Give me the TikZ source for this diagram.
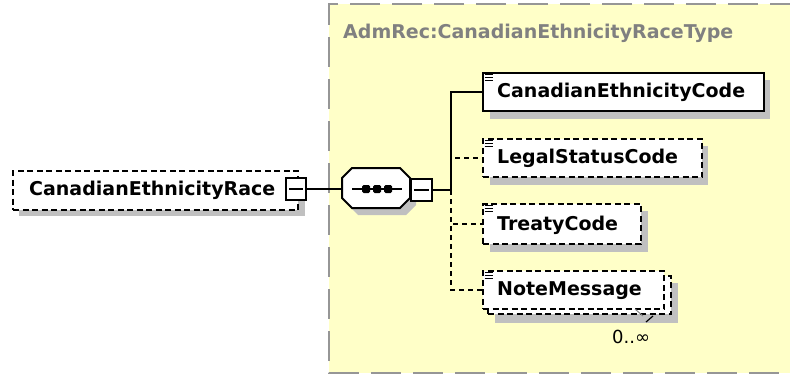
\documentclass[tikz,border=0pt]{standalone}
\usepackage{fontspec}
\setmainfont{DejaVu Sans}
\begin{document}
\begin{tikzpicture}[x=1pt,y=-1pt,
  txt/.style={font=\fontsize{19}{22}\selectfont\bfseries, inner sep=0pt, anchor=base west},
  elemsolid/.style={draw=black, line width=2pt, fill=white, rectangle, inner sep=0pt, anchor=north west},
  elemdash/.style={draw=black, line width=2pt, fill=white, rectangle, inner sep=0pt, anchor=north west, dash pattern=on 6pt off 3.5pt},
  btn/.style={draw=black, line width=2pt, fill=white, rectangle, inner sep=0pt},
  conn/.style={draw=black, line width=1.8pt},
  conndash/.style={draw=black, line width=1.8pt, dash pattern=on 5pt off 4pt},
]
\definecolor{panelyellow}{RGB}{255,255,200}
\definecolor{panelborder}{RGB}{150,150,150}
\definecolor{titlegray}{RGB}{128,128,128}
\definecolor{shgray}{RGB}{192,192,192}
\useasboundingbox (0,0) rectangle (790,375);

% panel
\fill[panelyellow] (329,4) rectangle (800,373);
\draw[panelborder, line width=2.5pt, dash pattern=on 30pt off 12pt] (800,4) -- (329,4) -- (329,373) -- (800,373);
\node[txt, text=titlegray] (title) at (343,38) {AdmRec:CanadianEthnicityRaceType};

% main element
\fill[shgray] (19,177) rectangle (305,216);
\node[elemdash, minimum width=285pt, minimum height=39pt] (mr) at (12,170) {};
\node[txt] (mrtxt) at (29,195) {CanadianEthnicityRace};
\node[btn, minimum width=20pt, minimum height=22pt] (mrbtn) at (296,189) {};
\draw[line width=1.6pt] ([xshift=4pt]mrbtn.west) -- ([xshift=-4pt]mrbtn.east);

% sequence compositor
\fill[shgray] (358,175) -- (406,175) -- (416,185) -- (416,205) -- (406,215) -- (358,215) -- (348,205) -- (348,185) -- cycle;
\node[rectangle, draw=none, minimum width=68pt, minimum height=40pt, inner sep=0pt] (seq) at (376,188) {};
\draw[line width=2pt, fill=white] (352,168) -- (400,168) -- (410,178) -- (410,198) -- (400,208) -- (352,208) -- (342,198) -- (342,178) -- cycle;
\draw[line width=1.6pt] (352,189) -- (402,189);
\foreach \xx in {366,377,388} \fill[black, rounded corners=1.5pt] (\xx-4,185) rectangle (\xx+4,193);
\node[btn, minimum width=21pt, minimum height=22pt] (seqbtn) at (421.5,190) {};
\draw[line width=1.6pt] ([xshift=4pt]seqbtn.west) -- ([xshift=-4pt]seqbtn.east);
\coordinate (j) at (451,190);

% connectors
\draw[conn] (mrbtn.east) -- (seq.west |- mrbtn.east);
\draw[conn] (seqbtn.east) -- (j);

% children shadows
\fill[shgray] (490,80) rectangle (770,119);
\fill[shgray] (490,146) rectangle (708,185);
\fill[shgray] (490,211) rectangle (648,252);
\fill[shgray] (495,283) rectangle (678,323);

% children
\node[elemsolid, minimum width=281pt, minimum height=38pt] (c1) at (482,72) {};
\node[elemdash, minimum width=219pt, minimum height=38pt] (c2) at (482,138) {};
\node[elemdash, minimum width=158pt, minimum height=40pt] (c3) at (482,203) {};
\node[elemdash, minimum width=183pt, minimum height=38pt] (c4b) at (487,275) {};
\node[elemdash, minimum width=181pt, minimum height=38pt] (c4) at (482,270) {};

\draw[conndash] (j) |- (c4.west);
\draw[conndash] (j) |- (c3.west);
\draw[conndash] (j) |- (c2.west);
\draw[conn] (j) |- (c1.west);

% texts
\node[txt] (t1) at (497,97) {CanadianEthnicityCode};
\node[txt] (t2) at (497,163) {LegalStatusCode};
\node[txt] (t3) at (497,230) {TreatyCode};
\node[txt] (t4) at (497,295) {NoteMessage};

% simple-content icons
\foreach \bx/\by in {482/72, 482/138, 482/203, 482/270} {
  \draw[line width=1.2pt] (\bx+2.5,\by+2.5) -- (\bx+11,\by+2.5);
  \draw[line width=1.2pt] (\bx+2.5,\by+5.5) -- (\bx+11,\by+5.5);
  \draw[line width=1.2pt] (\bx+2.5,\by+8.5) -- (\bx+11,\by+8.5);
}

% occurrence
\draw[shgray!70!black, line width=1pt] (635,309) -- (643,316);
\draw[black, line width=1.2pt] (646,322) -- (653,316);
\node[inner sep=0pt, anchor=base west, font=\fontsize{18}{21}\selectfont] (occ) at (612,343) {0..∞};
\end{tikzpicture}
\end{document}
